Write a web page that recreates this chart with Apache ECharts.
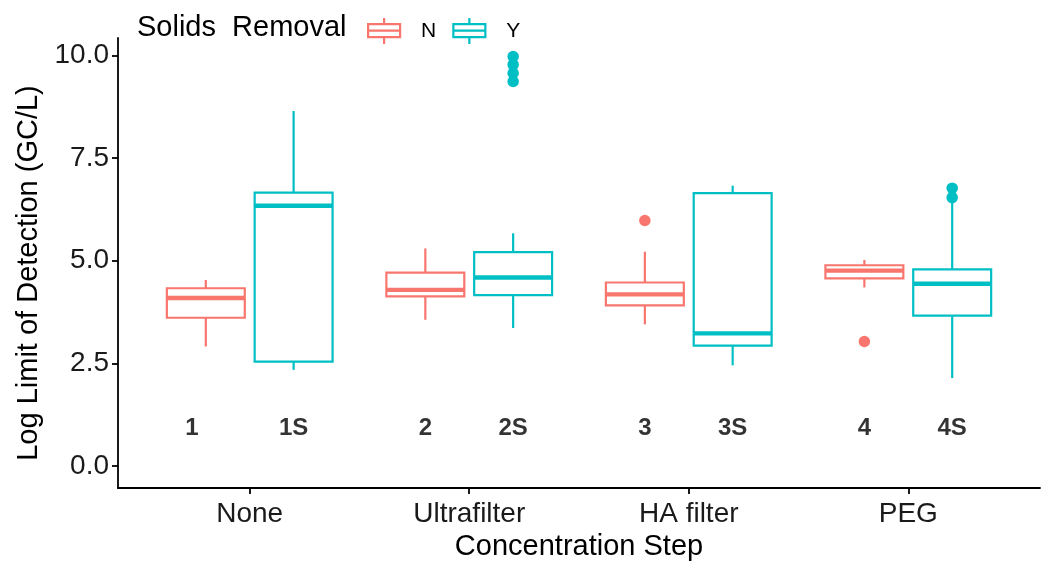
<!DOCTYPE html>
<html>
<head>
<meta charset="utf-8">
<script src="https://cdn.jsdelivr.net/npm/echarts@6/dist/echarts.min.js"></script>
<style>
  html, body { margin: 0; padding: 0; background: #fff; }
  #chart { width: 1050px; height: 569px; }
</style>
</head>
<body>
<div id="chart"></div>
<script>
// ---- data ----
const categories = ['None', 'Ultrafilter', 'HA filter', 'PEG'];
// [lower whisker, Q1, median, Q3, upper whisker]
const statsN = [
  [2.91, 3.61, 4.09, 4.33, 4.53],
  [3.56, 4.13, 4.29, 4.71, 5.30],
  [3.45, 3.91, 4.18, 4.47, 5.22],
  [4.35, 4.57, 4.76, 4.89, 5.02]
];
const statsY = [
  [2.34, 2.54, 6.34, 6.66, 8.65],
  [3.36, 4.16, 4.59, 5.21, 5.67],
  [2.45, 2.93, 3.23, 6.65, 6.83],
  [2.14, 3.66, 4.44, 4.79, 6.44]
];
// outliers: [category index (0-based), value]
const outliersN = [[2, 5.98], [3, 3.03]];
const outliersY = [[1, 9.98], [1, 9.78], [1, 9.57], [1, 9.37], [3, 6.77], [3, 6.54]];
const labelsN = ['1', '2', '3', '4'];
const labelsY = ['1S', '2S', '3S', '4S'];
const labelLevel = 0.91;
const yTicks = [0, 2.5, 5, 7.5, 10];

// ---- styles ----
const COL_N = '#F8766D';
const COL_Y = '#00BFC4';
const DODGE = 0.2;
const BOX_W = 0.355;
const FONT = '"Liberation Sans", Arial, Helvetica, sans-serif';

function boxRender(offset, color) {
  return function (params, api) {
    const x = api.value(0) + offset;
    const pLo = api.coord([x, api.value(1)]);
    const pQ1 = api.coord([x, api.value(2)]);
    const pMed = api.coord([x, api.value(3)]);
    const pQ3 = api.coord([x, api.value(4)]);
    const pHi = api.coord([x, api.value(5)]);
    const halfW = api.size([BOX_W, 0])[0] / 2;
    const cx = pMed[0];
    return {
      type: 'group',
      children: [
        { type: 'line', shape: { x1: cx, y1: pHi[1], x2: cx, y2: pQ3[1] }, style: { stroke: color, lineWidth: 2.2 } },
        { type: 'line', shape: { x1: cx, y1: pQ1[1], x2: cx, y2: pLo[1] }, style: { stroke: color, lineWidth: 2.2 } },
        { type: 'rect', shape: { x: cx - halfW, y: pQ3[1], width: 2 * halfW, height: pQ1[1] - pQ3[1] }, style: { fill: '#fff', stroke: color, lineWidth: 2.2 } },
        { type: 'line', shape: { x1: cx - halfW, y1: pMed[1], x2: cx + halfW, y2: pMed[1] }, style: { stroke: color, lineWidth: 4.4 } }
      ]
    };
  };
}

const boxDataN = statsN.map((s, i) => [i + 1].concat(s));
const boxDataY = statsY.map((s, i) => [i + 1].concat(s));
const outDataN = outliersN.map(o => [o[0] + 1 - DODGE, o[1]]);
const outDataY = outliersY.map(o => [o[0] + 1 + DODGE, o[1]]);
const labelData = [];
labelsN.forEach((t, i) => labelData.push({ value: [i + 1 - DODGE, labelLevel], name: t, label: i === 0 ? { offset: [-14, 0] } : {} }));
labelsY.forEach((t, i) => labelData.push({ value: [i + 1 + DODGE, labelLevel], name: t }));

const legendIcon = 'path://M16,0 L16,6 M0,6 L32,6 L32,19 L0,19 Z M0,12.5 L32,12.5 M16,19 L16,26';

const chart = echarts.init(document.getElementById('chart'), null, { renderer: 'canvas' });
chart.setOption({
  animation: false,
  backgroundColor: '#fff',
  textStyle: { fontFamily: FONT },
  title: {
    text: 'Solids  Removal',
    left: 137, top: 12, padding: 0,
    textStyle: { fontFamily: FONT, fontSize: 29, fontWeight: 'normal', color: '#000', lineHeight: 32 }
  },
  legend: {
    left: 367, top: 17, padding: 0,
    itemWidth: 32, itemHeight: 26, itemGap: 16,
    selectedMode: false,
    textStyle: { fontFamily: FONT, fontSize: 21, color: '#000', padding: [0, 0, 0, 16] },
    data: [
      { name: 'N', icon: legendIcon, itemStyle: { color: '#fff', borderColor: COL_N, borderWidth: 2.2 } },
      { name: 'Y', icon: legendIcon, itemStyle: { color: '#fff', borderColor: COL_Y, borderWidth: 2.2 } }
    ]
  },
  grid: { left: 118, right: 10, top: 38, bottom: 81, containLabel: false },
  xAxis: {
    type: 'value', min: 0.4, max: 4.6,
    name: 'Concentration Step', nameLocation: 'middle', nameGap: 44,
    nameTextStyle: { fontFamily: FONT, fontSize: 29, color: '#000' },
    axisLine: { show: true, onZero: false, lineStyle: { color: '#000', width: 1.8 } },
    axisTick: { show: true, length: 6, lineStyle: { color: '#000', width: 1.8 }, customValues: [1, 2, 3, 4] },
    axisLabel: {
      fontFamily: FONT, fontSize: 28, color: '#1a1a1a', margin: 12,
      customValues: [1, 2, 3, 4],
      formatter: v => categories[Math.round(v) - 1] || ''
    },
    splitLine: { show: false }
  },
  yAxis: {
    type: 'value', min: -0.54, max: 10.43,
    name: 'Log Limit of Detection (GC/L)', nameLocation: 'middle', nameGap: 69, nameRotate: 90,
    nameTextStyle: { fontFamily: FONT, fontSize: 29, color: '#000', padding: [0, 20, 0, 0] },
    axisLine: { show: true, onZero: false, lineStyle: { color: '#000', width: 1.8 } },
    axisTick: { show: true, length: 6, lineStyle: { color: '#000', width: 1.8 }, customValues: yTicks },
    axisLabel: {
      fontFamily: FONT, fontSize: 28, color: '#1a1a1a', margin: 9,
      customValues: yTicks,
      formatter: v => v.toFixed(1)
    },
    splitLine: { show: false }
  },
  series: [
    {
      name: 'N', type: 'custom', renderItem: boxRender(-DODGE, COL_N),
      itemStyle: { color: COL_N },
      encode: { x: 0, y: [1, 2, 3, 4, 5] },
      data: boxDataN, z: 2
    },
    {
      name: 'Y', type: 'custom', renderItem: boxRender(DODGE, COL_Y),
      itemStyle: { color: COL_Y },
      encode: { x: 0, y: [1, 2, 3, 4, 5] },
      data: boxDataY, z: 2
    },
    {
      name: 'N', type: 'scatter', symbolSize: 11.5, itemStyle: { color: COL_N, opacity: 1 },
      data: outDataN, z: 3
    },
    {
      name: 'Y', type: 'scatter', symbolSize: 11.5, itemStyle: { color: COL_Y, opacity: 1 },
      data: outDataY, z: 3
    },
    {
      name: 'labels', type: 'scatter', symbolSize: 0, silent: true,
      label: {
        show: true, position: 'inside', formatter: p => p.name,
        fontFamily: FONT, fontSize: 24, fontWeight: 'bold', color: '#000'
      },
      data: labelData, z: 4
    }
  ]
});
</script>
</body>
</html>
